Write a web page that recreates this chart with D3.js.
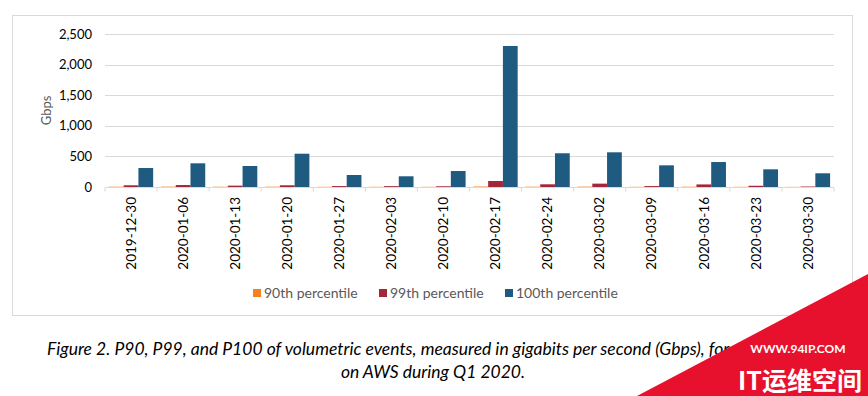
<!DOCTYPE html>
<html>
<head>
<meta charset="utf-8">
<script src="https://cdn.jsdelivr.net/npm/d3@7"></script>
<style>
  body { margin: 0; background: #fff; }
  svg { display: block; }
  text { font-family: Lato, "Open Sans", sans-serif; }
</style>
</head>
<body>
<div id="chart"></div>
<script>
const weeks = ['2019-12-30', '2020-01-06', '2020-01-13', '2020-01-20', '2020-01-27', '2020-02-03',
  '2020-02-10', '2020-02-17', '2020-02-24', '2020-03-02', '2020-03-09', '2020-03-16', '2020-03-23', '2020-03-30'];
const seriesNames = ['90th percentile', '99th percentile', '100th percentile'];
const p90 = [5, 6, 4, 5, 3, 3, 3, 8, 5, 6, 3, 5, 3, 2];
const p99 = [28, 32, 22, 28, 15, 14, 12, 98, 44, 55, 15, 42, 20, 8];
const p100 = [310, 387, 343, 544, 196, 175, 261, 2304, 551, 567, 354, 408, 289, 224];
const yTicks = [0, 500, 1000, 1500, 2000, 2500];
const colors = ['#f5821f', '#a3263a', '#1f5a80'];

const width = 868, height = 396;
const margin = { top: 34, left: 105, right: 34, bottom: 209 };

const svg = d3.select('#chart').append('svg')
  .attr('width', width)
  .attr('height', height);

// frame round the chart
svg.append('rect')
  .attr('x', 12.5).attr('y', 15.5)
  .attr('width', 840).attr('height', 300)
  .attr('fill', 'none')
  .attr('stroke', '#d9d9d9');

const x0 = d3.scaleBand()
  .domain(weeks)
  .range([margin.left, width - margin.right])
  .paddingInner(0.15)
  .paddingOuter(0.075);

const x1 = d3.scaleBand()
  .domain(d3.range(3))
  .range([0, x0.bandwidth()]);

const y = d3.scaleLinear()
  .domain([0, 2500])
  .range([height - margin.bottom, margin.top]);

// gridlines
svg.append('g')
  .selectAll('line')
  .data(yTicks.slice(1))
  .join('line')
  .attr('x1', margin.left).attr('x2', width - margin.right)
  .attr('y1', d => Math.round(y(d)) + 0.5).attr('y2', d => Math.round(y(d)) + 0.5)
  .attr('stroke', '#d9d9d9');

// y labels
svg.append('g')
  .selectAll('text')
  .data(yTicks)
  .join('text')
  .attr('x', 92)
  .attr('y', d => y(d))
  .attr('dy', '0.35em')
  .attr('text-anchor', 'end')
  .attr('font-size', 13)
  .attr('fill', '#000')
  .text(d => d3.format(',')(d));

svg.append('text')
  .attr('transform', `translate(51,${y(1250)}) rotate(-90)`)
  .attr('text-anchor', 'middle')
  .attr('font-size', 13)
  .attr('fill', '#595959')
  .text('Gbps');

// bars
const rows = weeks.map((w, i) => ({ week: w, vals: [p90[i], p99[i], p100[i]] }));

const groups = svg.append('g')
  .selectAll('g')
  .data(rows)
  .join('g')
  .attr('transform', d => `translate(${x0(d.week)},0)`);

groups.selectAll('rect')
  .data(d => d.vals)
  .join('rect')
  .attr('x', (d, i) => x1(i))
  .attr('width', x1.bandwidth())
  .attr('y', d => y(d))
  .attr('height', d => y(0) - y(d))
  .attr('fill', (d, i) => colors[i]);

// x axis line and ticks
const x0Line = Math.round(y(0)) + 0.5;
svg.append('line')
  .attr('x1', margin.left).attr('x2', width - margin.right)
  .attr('y1', x0Line).attr('y2', x0Line)
  .attr('stroke', '#d9d9d9');

const step = x0.step();
svg.append('g')
  .selectAll('line')
  .data(d3.range(weeks.length + 1))
  .join('line')
  .attr('x1', i => margin.left + i * step).attr('x2', i => margin.left + i * step)
  .attr('y1', x0Line).attr('y2', x0Line + 4)
  .attr('stroke', '#d9d9d9');

svg.append('g')
  .selectAll('text')
  .data(weeks)
  .join('text')
  .attr('transform', d => `translate(${x0(d) + x0.bandwidth() / 2},197) rotate(-90)`)
  .attr('text-anchor', 'end')
  .attr('dy', '0.35em')
  .attr('font-size', 13.5)
  .attr('fill', '#000')
  .text(d => d);

// legend
const legendX = [253, 379, 505];
const legend = svg.append('g')
  .selectAll('g')
  .data(seriesNames)
  .join('g')
  .attr('transform', (d, i) => `translate(${legendX[i]},294)`);

legend.append('rect')
  .attr('x', 0).attr('y', -5)
  .attr('width', 8).attr('height', 8)
  .attr('fill', (d, i) => colors[i]);

legend.append('text')
  .attr('x', 11)
  .attr('dy', '0.32em')
  .attr('font-size', 14)
  .attr('fill', '#595959')
  .text(d => d);

// caption
const caption = svg.append('g')
  .attr('font-style', 'italic')
  .attr('font-size', 17.5)
  .attr('fill', '#000');

caption.append('text')
  .attr('x', 47).attr('y', 355)
  .text('Figure 2. P90, P99, and P100 of volumetric events, measured in gigabits per second (Gbps), for');
caption.append('text')
  .attr('x', 433).attr('y', 378)
  .attr('text-anchor', 'middle')
  .text('on AWS during Q1 2020.');

// watermark
svg.append('path')
  .attr('d', `M637,${height} L${width},274 L${width},${height} Z`)
  .attr('fill', '#e8112d');

svg.append('text')
  .attr('x', 798).attr('y', 353)
  .attr('text-anchor', 'middle')
  .attr('font-size', 12)
  .attr('font-weight', 'bold')
  .attr('fill', '#fff')
  .text('WWW.94IP.COM');

svg.append('text')
  .attr('x', 800).attr('y', 390)
  .attr('text-anchor', 'middle')
  .attr('font-size', 25)
  .attr('font-weight', 'bold')
  .attr('fill', '#fff')
  .style('font-family', '"Noto Sans CJK SC", sans-serif')
  .text('IT运维空间');
</script>
</body>
</html>
